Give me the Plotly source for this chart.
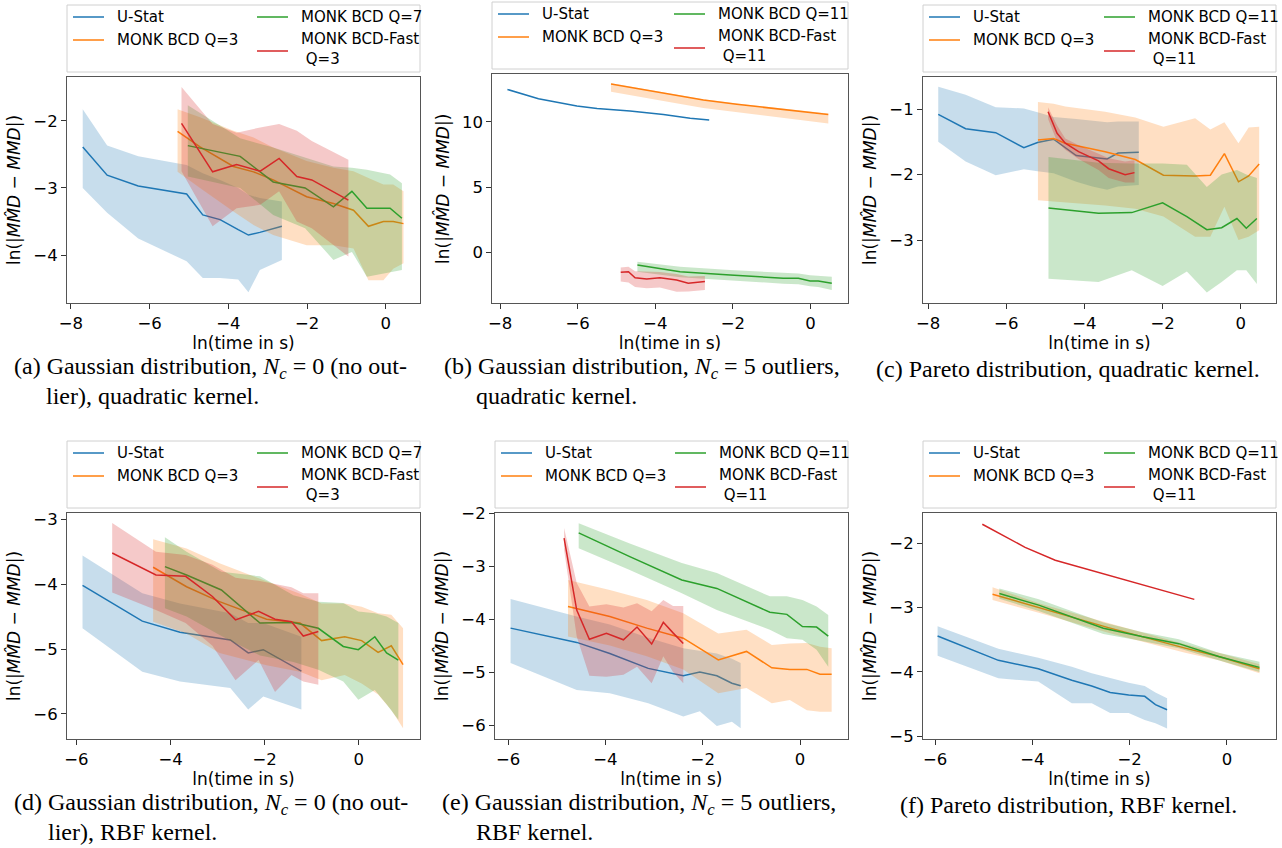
import plotly.graph_objects as go

# ---------------- data ----------------
# Panel (a): Gaussian, Nc=0, quadratic kernel
a_ustat_x = [-7.70, -7.08, -6.29, -5.06, -4.65, -4.21, -3.75, -3.49, -3.20, -2.64]
a_ustat_y = [-2.39, -2.81, -2.97, -3.09, -3.40, -3.47, -3.62, -3.70, -3.66, -3.57]
a_ustat_hi = [-1.83, -2.37, -2.53, -2.66, -2.78, -2.88, -3.00, -3.10, -3.15, -3.20]
a_ustat_lo = [-3.00, -3.37, -3.75, -4.09, -4.34, -4.34, -4.36, -4.55, -4.22, -4.07]
a_bcd_x = [-5.29, -4.72, -3.87, -3.36, -2.86, -2.01, -1.33, -0.82, -0.44, -0.06, 0.19, 0.45]
a_bcd_y = [-2.16, -2.39, -2.68, -2.76, -2.88, -3.13, -3.23, -3.33, -3.57, -3.50, -3.50, -3.53]
a_bcd_hi = [-1.83, -1.95, -2.15, -2.25, -2.40, -2.60, -2.70, -2.75, -2.85, -2.95, -2.95, -3.05]
a_bcd_lo = [-2.76, -3.00, -3.35, -3.55, -3.70, -3.85, -3.85, -3.90, -4.37, -4.37, -4.20, -4.12]
a_bcdq_x = [-5.03, -3.70, -2.86, -2.05, -1.33, -0.86, -0.48, 0.11, 0.41]
a_bcdq_y = [-2.37, -2.53, -2.91, -3.00, -3.28, -3.05, -3.30, -3.30, -3.45]
a_bcdq_hi = [-1.77, -2.26, -2.40, -2.55, -2.68, -2.70, -2.73, -2.80, -2.93]
a_bcdq_lo = [-2.83, -3.00, -3.40, -3.60, -4.07, -3.95, -4.32, -4.25, -4.22]
a_fast_x = [-5.19, -4.40, -3.79, -3.19, -2.71, -2.26, -1.88, -0.95]
a_fast_y = [-2.04, -2.76, -2.65, -2.75, -2.56, -2.83, -2.88, -3.18]
a_fast_hi = [-1.50, -2.05, -2.18, -2.10, -2.05, -2.15, -2.30, -2.58]
a_fast_lo = [-2.75, -3.57, -3.30, -3.25, -3.05, -3.50, -3.60, -4.02]

# Panel (b): Gaussian, Nc=5, quadratic kernel
b_ustat_x = [-7.81, -7.01, -6.02, -5.50, -4.65, -3.79, -3.10, -2.61]
b_ustat_y = [12.47, 11.76, 11.20, 11.02, 10.82, 10.56, 10.26, 10.13]
b_bcd_x = [-5.14, -3.79, -2.76, -1.90, -0.70, 0.46]
b_bcd_y = [12.88, 12.17, 11.66, 11.33, 10.94, 10.56]
b_bcd_hi = [12.95, 12.25, 11.72, 11.40, 11.00, 10.62]
b_bcd_lo = [12.30, 11.58, 11.05, 10.70, 10.30, 9.87]
b_bcdq_x = [-4.46, -3.36, -2.07, -0.70, -0.31, -0.01, 0.20, 0.55]
b_bcdq_y = [-0.97, -1.48, -1.73, -1.99, -1.99, -2.19, -2.19, -2.37]
b_bcdq_hi = [-0.71, -1.10, -1.35, -1.60, -1.62, -1.75, -1.80, -1.86]
b_bcdq_lo = [-1.48, -1.90, -2.15, -2.40, -2.45, -2.60, -2.65, -2.88]
b_fast_x = [-4.89, -4.69, -4.52, -4.22, -3.88, -3.45, -3.15, -2.72]
b_fast_y = [-1.53, -1.48, -1.94, -2.04, -1.94, -2.12, -2.37, -2.24]
b_fast_hi = [-1.15, -1.10, -1.45, -1.50, -1.50, -1.65, -1.85, -1.81]
b_fast_lo = [-2.24, -2.30, -2.65, -2.75, -2.70, -3.01, -3.00, -2.88]

# Panel (c): Pareto, quadratic kernel
c_ustat_x = [-7.74, -7.04, -6.27, -5.55, -5.20, -4.79, -4.21, -3.80, -3.42, -3.14, -2.61]
c_ustat_y = [-1.08, -1.30, -1.36, -1.59, -1.51, -1.46, -1.71, -1.73, -1.76, -1.67, -1.66]
c_ustat_hi = [-0.66, -0.78, -0.97, -0.99, -1.05, -1.12, -1.15, -1.18, -1.20, -1.19, -1.19]
c_ustat_lo = [-1.50, -1.80, -2.01, -1.92, -1.95, -1.98, -2.11, -2.18, -2.23, -2.18, -2.16]
c_bcd_x = [-5.19, -4.79, -4.49, -3.47, -2.70, -1.98, -1.17, -0.78, -0.42, -0.06, 0.20, 0.47]
c_bcd_y = [-1.47, -1.45, -1.52, -1.65, -1.77, -2.01, -2.02, -2.01, -1.68, -2.11, -2.02, -1.84]
c_bcd_hi = [-0.89, -0.92, -0.96, -1.04, -1.13, -1.27, -1.14, -1.31, -1.20, -1.52, -1.28, -1.27]
c_bcd_lo = [-2.39, -2.41, -2.43, -2.47, -2.52, -2.64, -2.95, -2.95, -2.49, -3.00, -2.95, -2.85]
c_bcdq_x = [-4.92, -3.64, -2.79, -2.00, -1.38, -0.87, -0.49, -0.10, 0.14, 0.41]
c_bcdq_y = [-2.51, -2.59, -2.58, -2.43, -2.64, -2.84, -2.81, -2.67, -2.82, -2.67]
c_bcdq_hi = [-1.73, -1.82, -1.83, -1.83, -1.85, -2.19, -2.00, -1.93, -2.00, -2.05]
c_bcdq_lo = [-3.59, -3.64, -3.46, -3.70, -3.48, -3.80, -3.64, -3.46, -3.46, -3.67]
c_fast_x = [-4.93, -4.70, -4.49, -4.15, -3.64, -3.38, -2.96, -2.72]
c_fast_y = [-1.04, -1.37, -1.52, -1.65, -1.79, -1.91, -2.00, -1.97]
c_fast_hi = [-0.97, -1.25, -1.45, -1.55, -1.68, -1.75, -1.80, -1.78]
c_fast_lo = [-1.15, -1.50, -1.62, -1.76, -1.93, -2.05, -2.12, -2.12]

# Panel (d): Gaussian, Nc=0, RBF kernel
d_ustat_x = [-5.87, -4.60, -3.80, -2.73, -2.35, -2.03, -1.22]
d_ustat_y = [-4.02, -4.57, -4.74, -4.86, -5.06, -5.01, -5.34]
d_ustat_hi = [-3.56, -4.14, -4.30, -4.45, -4.60, -4.60, -4.81]
d_ustat_lo = [-4.68, -5.35, -5.50, -5.60, -5.93, -5.73, -5.93]
d_bcd_x = [-4.37, -3.66, -2.96, -1.96, -1.25, -0.79, -0.30, 0.06, 0.41, 0.69, 0.94]
d_bcd_y = [-3.74, -4.04, -4.27, -4.54, -4.60, -4.87, -4.81, -4.87, -5.05, -4.95, -5.24]
d_bcd_hi = [-3.31, -3.45, -3.68, -3.95, -4.15, -4.30, -4.30, -4.35, -4.45, -4.47, -4.68]
d_bcd_lo = [-4.58, -4.76, -5.06, -5.25, -5.35, -5.48, -5.40, -5.53, -5.70, -5.94, -6.22]
d_bcdq_x = [-4.12, -3.66, -2.92, -2.10, -1.39, -0.86, -0.33, -0.01, 0.34, 0.59, 0.84]
d_bcdq_y = [-3.73, -3.86, -4.09, -4.60, -4.59, -4.68, -4.96, -5.01, -4.81, -5.06, -5.17]
d_bcdq_hi = [-3.28, -3.50, -3.81, -3.88, -4.17, -4.27, -4.29, -4.42, -4.45, -4.50, -4.60]
d_bcdq_lo = [-4.37, -4.50, -4.80, -5.10, -5.20, -5.32, -5.50, -5.78, -5.63, -5.85, -6.09]
d_fast_x = [-5.24, -4.31, -3.68, -3.11, -2.62, -2.13, -1.78, -1.43, -1.18, -0.86]
d_fast_y = [-3.52, -3.86, -3.88, -4.19, -4.55, -4.42, -4.54, -4.58, -4.80, -4.73]
d_fast_hi = [-3.06, -3.50, -3.55, -3.70, -3.90, -3.95, -4.00, -4.05, -4.14, -4.14]
d_fast_lo = [-4.13, -4.40, -4.60, -4.95, -5.48, -5.17, -5.66, -5.40, -5.50, -5.55]

# Panel (e): Gaussian, Nc=5, RBF kernel
e_ustat_x = [-5.95, -4.59, -3.91, -3.12, -2.40, -2.06, -1.71, -1.40, -1.22]
e_ustat_y = [-4.17, -4.44, -4.65, -4.93, -5.07, -5.00, -5.07, -5.21, -5.26]
e_ustat_hi = [-3.62, -3.95, -4.10, -4.35, -4.55, -4.60, -4.65, -4.75, -4.83]
e_ustat_lo = [-4.83, -5.34, -5.40, -5.59, -5.84, -5.74, -6.02, -5.94, -6.06]
e_bcd_x = [-4.77, -3.91, -3.15, -2.40, -1.68, -1.10, -0.58, -0.21, 0.14, 0.41, 0.65]
e_bcd_y = [-3.76, -3.95, -4.17, -4.36, -4.77, -4.61, -4.92, -4.95, -4.95, -5.04, -5.04]
e_bcd_hi = [-3.26, -3.45, -3.64, -3.89, -4.27, -4.20, -4.49, -4.46, -4.45, -4.52, -4.55]
e_bcd_lo = [-4.33, -4.50, -4.70, -4.95, -5.40, -5.30, -5.59, -5.53, -5.72, -5.75, -5.75]
e_bcdq_x = [-4.55, -3.50, -2.43, -1.71, -0.62, -0.27, 0.05, 0.34, 0.58]
e_bcdq_y = [-2.37, -2.82, -3.26, -3.42, -3.87, -3.91, -4.14, -4.15, -4.32]
e_bcdq_hi = [-2.19, -2.57, -2.94, -3.13, -3.57, -3.57, -3.64, -3.76, -3.92]
e_bcdq_lo = [-2.66, -3.07, -3.51, -3.83, -4.20, -4.36, -4.39, -4.58, -4.90]
e_fast_x = [-4.85, -4.59, -4.33, -3.98, -3.63, -3.35, -3.05, -2.81, -2.61, -2.40]
e_fast_y = [-2.47, -3.83, -4.38, -4.27, -4.39, -4.15, -4.47, -4.06, -4.26, -4.46]
e_fast_hi = [-2.28, -3.32, -3.76, -3.72, -3.78, -3.70, -3.85, -3.64, -3.75, -3.75]
e_fast_lo = [-2.69, -4.33, -5.07, -5.09, -5.05, -4.90, -5.21, -4.70, -5.00, -5.21]

# Panel (f): Pareto, RBF kernel
f_ustat_x = [-5.95, -4.70, -3.88, -3.19, -2.78, -2.40, -2.02, -1.69, -1.47, -1.23]
f_ustat_y = [-3.44, -3.82, -3.95, -4.13, -4.22, -4.32, -4.36, -4.38, -4.51, -4.59]
f_ustat_hi = [-3.29, -3.64, -3.78, -3.92, -4.02, -4.10, -4.17, -4.22, -4.32, -4.41]
f_ustat_lo = [-3.75, -4.10, -4.15, -4.49, -4.49, -4.64, -4.64, -4.75, -4.80, -4.88]
f_bcd_x = [-4.82, -3.87, -2.44, -0.86, -0.17, 0.67]
f_bcd_y = [-2.79, -3.00, -3.31, -3.63, -3.76, -3.95]
f_bcd_hi = [-2.68, -2.93, -3.24, -3.57, -3.70, -3.88]
f_bcd_lo = [-2.88, -3.08, -3.39, -3.70, -3.82, -4.02]
f_bcdq_x = [-4.68, -3.87, -2.54, -1.75, -0.99, -0.17, 0.67]
f_bcdq_y = [-2.78, -2.96, -3.32, -3.45, -3.56, -3.76, -3.93]
f_bcdq_hi = [-2.70, -2.87, -3.23, -3.38, -3.49, -3.70, -3.84]
f_bcdq_lo = [-2.86, -3.05, -3.41, -3.52, -3.63, -3.82, -4.00]
f_fast_x = [-5.03, -4.15, -3.53, -2.78, -2.02, -1.34, -0.67]
f_fast_y = [-1.70, -2.06, -2.26, -2.42, -2.58, -2.73, -2.87]

# labels
label_ustat = "U-Stat"
label_bcd = "MONK BCD Q=3"
labels_bcdq = ["MONK BCD Q=7", "MONK BCD Q=11", "MONK BCD Q=11",
               "MONK BCD Q=7", "MONK BCD Q=11", "MONK BCD Q=11"]
labels_fast = ["MONK BCD-Fast<br> Q=3", "MONK BCD-Fast<br> Q=11", "MONK BCD-Fast<br> Q=11",
               "MONK BCD-Fast<br> Q=3", "MONK BCD-Fast<br> Q=11", "MONK BCD-Fast<br> Q=11"]
captions = [
    ["(a) Gaussian distribution, <i>N<sub>c</sub></i> = 0 (no out-", "lier), quadratic kernel."],
    ["(b) Gaussian distribution, <i>N<sub>c</sub></i> = 5 outliers,", "quadratic kernel."],
    ["(c) Pareto distribution, quadratic kernel."],
    ["(d) Gaussian distribution, <i>N<sub>c</sub></i> = 0 (no out-", "lier), RBF kernel."],
    ["(e) Gaussian distribution, <i>N<sub>c</sub></i> = 5 outliers,", "RBF kernel."],
    ["(f) Pareto distribution, RBF kernel."],
]
x_ticks_top = [-8, -6, -4, -2, 0]
x_ticks_bottom = [-6, -4, -2, 0]
y_ticks = [[-4, -3, -2], [0, 5, 10], [-3, -2, -1], [-6, -5, -4, -3], [-6, -5, -4, -3, -2], [-5, -4, -3, -2]]
x_ranges = [[-8.10, 0.87], [-8.20, 0.96], [-8.13, 0.90], [-6.20, 1.30], [-6.27, 0.98], [-6.25, 1.01]]
y_ranges = [[-4.71, -1.35], [-3.90, 13.63], [-3.96, -0.51], [-6.39, -2.90], [-6.27, -1.99], [-5.05, -1.52]]

# ---------------- styling ----------------
W, H = 1282, 848
COL = {"ustat": "#1f77b4", "bcd": "#ff7f0e", "bcdq": "#2ca02c", "fast": "#d62728"}
FILL = {"ustat": "rgba(31,119,180,0.25)", "bcd": "rgba(255,127,14,0.25)",
        "bcdq": "rgba(44,160,44,0.25)", "fast": "rgba(214,39,40,0.25)"}
SANS = "DejaVu Sans"
SERIF = "Liberation Serif"

# plot boxes in pixels: (left, top, right, bottom)
boxes = [(67, 77, 420, 303), (492.3, 74.3, 847.7, 303.3), (923, 77, 1276, 303),
         (67, 512.7, 420, 739.3), (495, 512.7, 847.7, 739.3), (923, 512.7, 1276, 739.3)]
# legend boxes: (left, top, right, bottom, col2 offset)
legboxes = [(67, 5, 420, 72, 184), (492, 2, 848, 69, 176), (923, 5, 1276, 72, 175),
            (67, 441, 420, 508, 184), (495, 441, 848, 508, 174), (923, 441, 1276, 508, 175)]

def px(x):
    return x / W

def py(y):
    return 1 - y / H

series = [
    [("ustat", a_ustat_x, a_ustat_y, a_ustat_lo, a_ustat_hi), ("bcd", a_bcd_x, a_bcd_y, a_bcd_lo, a_bcd_hi),
     ("bcdq", a_bcdq_x, a_bcdq_y, a_bcdq_lo, a_bcdq_hi), ("fast", a_fast_x, a_fast_y, a_fast_lo, a_fast_hi)],
    [("ustat", b_ustat_x, b_ustat_y, None, None), ("bcd", b_bcd_x, b_bcd_y, b_bcd_lo, b_bcd_hi),
     ("bcdq", b_bcdq_x, b_bcdq_y, b_bcdq_lo, b_bcdq_hi), ("fast", b_fast_x, b_fast_y, b_fast_lo, b_fast_hi)],
    [("ustat", c_ustat_x, c_ustat_y, c_ustat_lo, c_ustat_hi), ("bcd", c_bcd_x, c_bcd_y, c_bcd_lo, c_bcd_hi),
     ("bcdq", c_bcdq_x, c_bcdq_y, c_bcdq_lo, c_bcdq_hi), ("fast", c_fast_x, c_fast_y, c_fast_lo, c_fast_hi)],
    [("ustat", d_ustat_x, d_ustat_y, d_ustat_lo, d_ustat_hi), ("bcd", d_bcd_x, d_bcd_y, d_bcd_lo, d_bcd_hi),
     ("bcdq", d_bcdq_x, d_bcdq_y, d_bcdq_lo, d_bcdq_hi), ("fast", d_fast_x, d_fast_y, d_fast_lo, d_fast_hi)],
    [("ustat", e_ustat_x, e_ustat_y, e_ustat_lo, e_ustat_hi), ("bcd", e_bcd_x, e_bcd_y, e_bcd_lo, e_bcd_hi),
     ("bcdq", e_bcdq_x, e_bcdq_y, e_bcdq_lo, e_bcdq_hi), ("fast", e_fast_x, e_fast_y, e_fast_lo, e_fast_hi)],
    [("ustat", f_ustat_x, f_ustat_y, f_ustat_lo, f_ustat_hi), ("bcd", f_bcd_x, f_bcd_y, f_bcd_lo, f_bcd_hi),
     ("bcdq", f_bcdq_x, f_bcdq_y, f_bcdq_lo, f_bcdq_hi), ("fast", f_fast_x, f_fast_y, None, None)],
]

fig = go.Figure()
layout = {}
shapes = []
annotations = []

ytitle = "ln(|<i>M" + "M\u0302" + "D</i> \u2212 <i>MMD</i>|)"

for i in range(6):
    sfx = "" if i == 0 else str(i + 1)
    xa, ya = "x" + sfx, "y" + sfx
    for key, xs, ys, lo, hi in series[i]:
        if lo is not None:
            fig.add_trace(go.Scatter(
                x=list(xs) + list(xs)[::-1], y=list(hi) + list(lo)[::-1],
                fill="toself", fillcolor=FILL[key], line=dict(width=0),
                mode="lines", hoverinfo="skip", showlegend=False, xaxis=xa, yaxis=ya))
        fig.add_trace(go.Scatter(
            x=xs, y=ys, mode="lines", line=dict(color=COL[key], width=1.5),
            showlegend=False, xaxis=xa, yaxis=ya))

    l, t, r, b = boxes[i]
    axis_common = dict(showline=True, mirror=True, linecolor="#555555", linewidth=1,
                       ticks="outside", ticklen=5, tickwidth=1, tickcolor="#333333",
                       showgrid=False, zeroline=False, automargin=False,
                       tickfont=dict(family=SANS, size=16.5, color="black"))
    layout["xaxis" + sfx] = dict(axis_common, domain=[px(l), px(r)], anchor=ya,
                                 range=x_ranges[i],
                                 tickvals=x_ticks_top if i < 3 else x_ticks_bottom,
                                 title=dict(text="ln(time in s)", standoff=3,
                                            font=dict(family=SANS, size=17, color="black")))
    layout["yaxis" + sfx] = dict(axis_common, domain=[py(b), py(t)], anchor=xa,
                                 range=y_ranges[i], tickvals=y_ticks[i],
                                 title=dict(text=ytitle, standoff=8,
                                            font=dict(family=SANS, size=17, color="black")))

    # legend (drawn per panel)
    L, T, R, B, c2 = legboxes[i]
    shapes.append(dict(type="rect", xref="paper", yref="paper", x0=px(L), x1=px(R), y0=py(B), y1=py(T),
                       line=dict(color="#d0d0d0", width=1), fillcolor="white", layer="above"))
    entries = [(label_ustat, "ustat", 0, T + 12, T + 12),
               (label_bcd, "bcd", 0, T + 35, T + 35),
               (labels_bcdq[i], "bcdq", c2, T + 12, T + 12),
               (labels_fast[i], "fast", c2, T + 44, T + 46)]
    for text, key, off, ty, ly in entries:
        shapes.append(dict(type="line", xref="paper", yref="paper",
                           x0=px(L + off + 6), x1=px(L + off + 37), y0=py(ly), y1=py(ly),
                           line=dict(color=COL[key], width=1.5), layer="above"))
        annotations.append(dict(xref="paper", yref="paper", x=px(L + off + 48), y=py(ty),
                                xanchor="left", yanchor="middle", align="left", showarrow=False,
                                text=text, font=dict(family=SANS, size=15, color="black")))

# captions
cap_pos = [
    [(12, 368, "left"), (44, 396, "left")],
    [(442, 368, "left"), (474, 396, "left")],
    [(1068, 369, "center")],
    [(12, 804, "left"), (46, 832, "left")],
    [(440, 804, "left"), (474, 832, "left")],
    [(1068, 805, "center")],
]
for i in range(6):
    for (cx, cy, anc), text in zip(cap_pos[i], captions[i]):
        annotations.append(dict(xref="paper", yref="paper", x=px(cx), y=py(cy),
                                xanchor=anc, yanchor="middle", showarrow=False, text=text,
                                font=dict(family=SERIF, size=24, color="black")))

fig.update_layout(**layout)
fig.update_layout(width=W, height=H, margin=dict(l=0, r=0, t=0, b=0, autoexpand=False),
                  paper_bgcolor="white", plot_bgcolor="white",
                  shapes=shapes, annotations=annotations, showlegend=False)
fig.write_html("out.html", config={"displayModeBar": False},
               post_script="document.body.style.margin='0px';document.body.style.overflow='hidden';")
